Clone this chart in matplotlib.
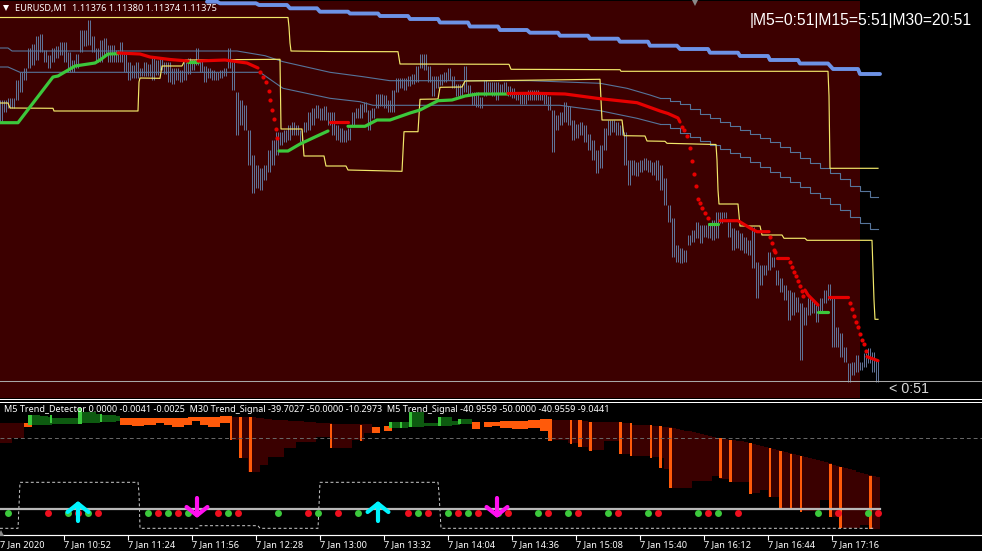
import matplotlib
matplotlib.use("Agg")
import matplotlib.pyplot as plt

MAROON = "#3c0000"
BLUE = "#5f7296"
THIN = "#56749a"
YEL = "#f2e86a"
GRN = "#3cc83c"
RED = "#e60000"
ORG = "#ff5a0a"
DGRN = "#0d5a10"
DARK = "#3a0000"

bar_high = [100,100,98,98,80,72,68,48,44,36,
 34,50,55,48,46,42,42,52,60,54,
 30,30,20,36,48,40,38,45,45,50,
 42,52,62,65,62,68,62,64,58,60,
 58,62,62,68,68,70,62,58,60,48,
 60,66,68,70,72,70,68,48,62,92,
 100,105,130,155,165,168,165,150,140,132,
 132,130,125,122,125,130,122,112,108,105,
 108,106,112,112,125,128,130,128,112,108,
 104,102,110,108,94,94,95,100,90,78,
 78,78,76,74,66,54,54,66,76,76,
 74,72,68,76,84,84,66,85,92,92,
 97,80,82,82,82,84,82,86,88,92,
 94,92,90,90,90,92,92,96,110,115,
 112,102,106,120,124,122,125,134,140,150,
 145,128,120,120,122,125,132,160,160,162,
 160,158,160,162,160,165,178,205,218,245,
 248,250,235,230,222,225,225,223,220,212,
 212,212,222,228,230,233,237,240,227,262,
 265,265,252,257,270,278,285,290,292,297,
 303,307,298,300,305,298,290,284,297,327,
 333,347,363,362,355,362,353,348,352,360]
bar_low = [122,112,108,108,100,92,80,68,65,60,
 52,62,68,62,58,55,62,72,72,68,
 52,46,45,52,62,62,55,62,62,62,
 62,72,80,78,78,76,76,76,80,75,
 70,74,82,84,80,82,80,74,70,65,
 72,82,78,80,80,78,76,68,90,135,
 125,130,165,193,188,190,180,172,165,155,
 145,142,140,135,135,142,132,130,125,118,
 120,120,125,135,140,142,142,140,125,118,
 118,112,130,118,108,106,108,112,112,92,
 88,90,86,84,82,68,70,82,96,88,
 85,82,80,88,96,96,92,94,105,107,
 108,96,92,96,100,94,92,96,98,100,
 104,104,100,100,100,100,104,110,152,130,
 125,122,125,140,138,135,142,150,160,173,
 168,150,135,132,135,135,165,185,175,176,
 172,170,172,175,180,190,205,222,257,262,
 263,262,245,242,238,243,237,238,240,238,
 223,218,237,250,248,250,253,255,268,298,
 285,275,270,267,285,292,300,320,315,312,
 360,325,315,313,322,312,303,300,347,347,
 357,362,382,375,372,370,367,363,372,382]

slow_x = [207,217,220,256,259,287,290,317,320,348,350,378,380,408,410,438,440,468,470,498,500,527,530,558,560,588,590,618,620,648,650,677,680,708,710,738,740,768,770,798,800,828,833,858,860,880]
slow_y = [1.7,1.7,3.3,3.3,5,5,8.3,8.3,11.7,11.7,13.5,13.5,16,16,19,19,22.5,22.5,26.5,26.5,30,30,32.7,32.7,35.7,35.7,38.7,38.7,41.7,41.7,45.7,45.7,49,49,52.7,52.7,56,56,60,60,63.5,63.5,69,69,74,74]

upper_x = [0,288,289,290,291,330,398,400,509,511,620,621,828,829,830,878]
upper_y = [17.5,17.5,27,43,51,51.5,51.7,64,64.3,69.3,69.7,71.3,71.3,96,168.3,168.3]
lower_x = [0,8,10,53,54,138,139,140,160,162,182,185,280,281,283,302,304,324,326,346,348,402,404,418,420,438,440,462,465,600,602,622,624,645,647,665,667,716,717,718,719,738,740,760,762,782,784,805,807,872,873,874,875,878]
lower_y = [103,103,108,108.3,111,111,82,78,78.3,66,66,60,59.3,129,129,129,156,156,166,166,170,171.3,131.7,131.7,99.3,99,87.3,87,81,79.3,120,120,135.7,136,141,141.3,143.3,144.5,160,190,204,204,226,226,235,235,238.3,238.3,240.3,240.3,270,300,319.3,319.3]

env1_x = [0,8,12,237,265,283,330,363,390,530,600,627,650,660]
env1_y = [48,48,51,51,55.7,61.7,72.3,76.7,80.7,80.7,83.3,88.3,95,98.3]
env1b_x = [660,670,680,690,700,710,720,730,740,750,760,770,780,790,800,810,820,830,840,850,860,870,878]
env1b_y = [98.3,100.7,104,109.3,114,118.3,121.7,126,130,134,138.3,142.3,147.3,151.7,158.3,163.3,168.3,172.7,179,186,191,197,197]
env2_x = [0,8,20,260,283,330,360,373,560,570,600,637,660]
env2_y = [67,67,72.3,72.3,88.3,98.3,101.7,105.3,105.3,106.7,110.7,118.3,124.3]
env2b_x = env1b_x
env2b_y = [124.3,128.3,133.3,137.3,141,145,149.3,153.3,157.3,162.3,166.7,171.7,176.7,181.7,186.7,193.3,198.3,204,210,217.3,223.3,229.3,229.3]

green_segments = [
 ([0,18,30,53,58,75,95,100,108,118],[122.7,122.7,107,77,76,66,63,60,54,53.7]),
 ([188,198],[62,62]),
 ([279,288,300,315,328],[151,151,144,137,131]),
 ([348,365,377,390,410,420,438,452,465,478,490,508],[126.3,126.3,120,120,113,110,100.7,100,96,94,94,94]),
 ([709,718],[224,224]),
 ([818,828],[312.3,312.3]),
]
red_segments = [
 ([118,140,150,170,188],[53,54,57,59.5,61]),
 ([198,225,247,258],[61,60,63,68]),
 ([330,348],[122,122]),
 ([508,535,565,597,637,660,668,678,680],[93.5,93.3,94,98.3,102.7,111,113.5,118,122]),
 ([720,738,750,757,769],[220.7,220.7,228,231.7,231.7]),
 ([777,788],[257.7,257.7]),
 ([805,808,818],[290,295,305]),
 ([829,848],[297.3,297.3]),
 ([867,878],[356.7,360.7]),
]
red_dot_x = [260,263,266,269,270,272,274,276,277,682,684,687,690,692,694,696,698,700,702,705,708,770,772,774,775,790,792,794,796,798,800,802,803,850,852,854,856,858,860,862,864,866]
red_dot_y = [72,77,82,91,100,110,119,129,138,127,130,136,148,161,174,186,199,203,208,213,218,237,243,250,252,262,267,272,276,281,286,291,296,303,309,316,322,327,334,340,344,351]

dark_x = [0,4,8,12,16,20,232,236,240,244,248,252,256,260,264,268,272,276,280,284,288,292,296,300,304,308,312,316,320,324,328,332,336,340,344,348,352,356,360,364,368,
 552,556,560,564,568,572,576,580,584,588,592,596,600,604,608,612,616,620,624,628,632,636,640,644,648,652,656,660,664,668,
 672,676,680,684,688,692,696,700,704,708,712,716,720,724,728,732,736,740,744,748,752,756,760,764,768,772,776,780,784,788,792,796,800,804,808,812,816,820,824,828,832,836,840,844,848,852,856,860,864,868,872,876]
dark_top = [423,423,423,423,423,423,417,417,417,417,417,417,418,418,419,419,420,420,420,420,421,421,421,421,422,422,422,423,423,423,423,424,424,424,424,424,424,424,424,424,424,
 420,420,420,420,420,420,420,421,421,422,422,422,422,422,422,422,422,423,423,423,425,425,425,425,425,426,426,427,427,427,
 428,429,430,431,431,432,433,434,435,436,437,438,438,439,440,440,441,441,442,443,444,445,446,447,448,449,450,451,452,453,454,455,456,457,458,459,460,461,462,463,465,466,467,468,469,470,472,473,474,475,476,477]
dark_bot = [443,443,443,438,438,438,440,440,458,458,472,472,472,465,465,457,457,457,457,448,448,448,442,442,442,442,442,437,437,437,437,448,448,448,448,448,440,440,441,433,433,
 440,440,440,440,443,443,443,447,447,450,450,450,450,441,441,441,441,454,454,454,456,456,456,456,456,457,457,458,469,469,
 488,488,488,488,488,481,481,481,481,481,476,476,479,479,479,482,482,482,482,482,493,493,490,490,497,497,497,508,508,508,508,508,511,511,511,511,511,500,500,500,517,517,528,528,528,528,528,525,525,525,529,529]

grn_x = [32,36,40,44,48,52,56,60,64,68,72,76,80,84,88,92,96,100,104,108,112,116,392,396,400,404,408,412,416,420,424,428,432,436,440,444,448,452,456,460,464,468]
grn_top = [415,415,416,416,417,418,418,418,418,418,418,418,412,412,412,412,414,415,415,415,415,416,422,422,422,422,422,412,412,412,423,423,423,423,417,417,417,421,421,419,419,419]
grn_bot = [425,425,425,425,425,424,424,424,424,424,424,424,423,423,423,423,423,422,422,422,422,421,428,428,428,428,427,427,427,427,426,426,426,426,426,426,426,425,425,424,424,424]

org_x = [24,28,120,124,128,132,136,140,144,148,152,156,160,164,168,172,176,180,184,188,192,196,200,204,208,212,216,220,224,228,372,376,384,388,472,476,484,488,492,496,500,504,508,512,516,520,524,528,532,536,540,544]
org_top = [423,423,418,418,418,418,418,418,418,418,418,418,418,418,418,418,418,418,418,417,417,417,417,417,417,417,417,416,416,416,427,427,426,426,422,422,422,422,422,422,421,421,421,421,421,421,421,420,420,420,419,419]
org_bot = [427,427,425,425,425,426,426,426,425,425,425,423,423,425,425,427,427,427,425,425,421,421,425,425,427,427,427,423,423,423,433,433,431,431,429,429,427,427,426,426,428,428,428,429,429,429,429,428,428,428,431,431]

spike_x = [230,239,249,330,360,548,570,578,589,619,630,650,659,669,719,729,749,769,779,790,800,829,839,869]
spike_w = [2,3,3,2,2,4,2,4,3,3,2,2,3,3,3,3,3,2,3,2,2,3,3,3]
spike_top = [417,417,417,424,425,419,420,420,422,422,423,425,426,428,438,440,443,448,451,454,456,464,467,476]
spike_bot = [440,458,472,448,441,441,444,447,451,454,456,458,468,488,478,482,494,497,508,508,512,517,528,529]

bright_x = [28,50,78,100,389,400,409,438,458]
bright_w = [4,2,4,2,3,2,3,3,3]
bright_top = [415,415,408,414,422,422,412,417,419]
bright_bot = [425,423,424,422,428,428,427,426,424]

stair_x = [0,18,20,138,139,140,198,200,258,260,318,320,438,439,441,874]
stair_y = [528.3,528.3,482.3,482.3,493,528.3,528.3,525.7,525.7,528.3,528.3,482.3,482.3,493,528.3,528.3]

green_dots = [8,68,88,148,168,188,228,278,318,358,418,448,468,498,538,568,608,648,698,718,818,868]
red_dots = [48,78,98,158,178,218,238,308,338,408,428,458,478,508,548,578,618,658,708,738,838,878]

up_arrows = [78,378]
down_arrows = [197,497]

tick_pos = [64,128,192,256,320,384,448,512,576,640,704,768,832]
tick_labels = ["7 Jan 10:52","7 Jan 11:24","7 Jan 11:56","7 Jan 12:28","7 Jan 13:00","7 Jan 13:32","7 Jan 14:04","7 Jan 14:36","7 Jan 15:08","7 Jan 15:40","7 Jan 16:12","7 Jan 16:44","7 Jan 17:16"]

fig = plt.figure(figsize=(9.82, 5.51), dpi=100, facecolor="black")
ax = fig.add_axes([0, 0, 1, 1])
ax.set_xlim(0, 982)
ax.set_ylim(551, 0)
ax.axis("off")
ax.set_facecolor("black")

ax.fill_between([0, 860], 1, 397.5, color=MAROON, lw=0, zorder=0)

# price bars: each reading covers a pair of one-minute bars, 2 px apart
bar_x = [4 * i for i in range(len(bar_high))]
ax.vlines(bar_x, bar_high, bar_low, color=BLUE, lw=0.72, zorder=2)
ax.vlines([x + 2 for x in bar_x], bar_high, bar_low, color=BLUE, lw=0.72, zorder=2)

# channels
for xs, ys in [(env1_x, env1_y), (env2_x, env2_y)]:
    ax.plot(xs, ys, color=THIN, lw=0.8, zorder=3)
for xs, ys in [(env1b_x, env1b_y), (env2b_x, env2b_y)]:
    ax.plot(xs, ys, color=THIN, lw=0.8, zorder=3, drawstyle="steps-post")
ax.plot(upper_x, upper_y, color=YEL, lw=0.85, zorder=4)
ax.plot(lower_x, lower_y, color=YEL, lw=0.85, zorder=4)
ax.plot(slow_x, slow_y, color="#6d92e6", lw=2.8, zorder=4, solid_capstyle="round")

for xs, ys in green_segments:
    ax.plot(xs, ys, color=GRN, lw=2.3, zorder=5, solid_capstyle="round")
for xs, ys in red_segments:
    ax.plot(xs, ys, color=RED, lw=2.3, zorder=5, solid_capstyle="round")
ax.plot(red_dot_x, red_dot_y, ls="none", marker="o", ms=3.0, color=RED, mew=0, zorder=5)

ax.plot([0, 982], [381, 381], color="#a8a8a8", lw=0.75, zorder=6)

ax.text(15, 8.5, "EURUSD,M1  1.11376 1.11380 1.11374 1.11375", color="white", fontsize=6.6,
        family="Noto Sans", va="center", ha="left", zorder=8)
ax.plot([6], [7.5], marker="v", ms=4.5, mew=0, color="white", zorder=8)
ax.plot([695], [1.5], marker="v", ms=6, mew=0, color="#8a8a8a", zorder=8)
ax.text(750, 20.5, "|M5=0:51|M15=5:51|M30=20:51", color="white", fontsize=11.25,
        family="Liberation Sans", va="center", ha="left", zorder=8)
ax.text(889, 389, "< 0:51", color="#d8d8d8", fontsize=10.3, family="Liberation Sans",
        va="center", ha="left", zorder=8)

# separators
ax.plot([0, 982], [399, 399], color="white", lw=0.72, zorder=7)
ax.plot([0, 982], [401.5, 401.5], color="white", lw=0.72, zorder=7)

# histogram
def bars(xs, tops, bots, color, widths=4, z=2):
    hts = [b - t for t, b in zip(tops, bots)]
    ax.bar(xs, hts, bottom=tops, width=widths, align="edge", color=color, lw=0, zorder=z)

bars(dark_x, dark_top, dark_bot, DARK)
bars(grn_x, grn_top, grn_bot, DGRN)
bars(org_x, org_top, org_bot, ORG)
bars(spike_x, spike_top, spike_bot, ORG, widths=spike_w, z=3)
bars(bright_x, bright_top, bright_bot, GRN, widths=bright_w, z=3)

ax.plot([0, 982], [438.3, 438.3], color="#6a6a6a", lw=0.7, ls=(0, (4, 3)), zorder=4)
ax.plot(stair_x, stair_y, color="#cfcfcf", lw=0.7, ls=(0, (3, 2.5)), zorder=4)
ax.plot([0, 880], [509, 509], color="#b8b8b8", lw=1.6, zorder=4)
ax.plot(green_dots, [512.5] * len(green_dots), ls="none", marker="o", ms=5.0, mew=0, color=GRN, zorder=5)
ax.plot(red_dots, [512.5] * len(red_dots), ls="none", marker="o", ms=5.0, mew=0, color="#ee0f1e", zorder=5)

for x in up_arrows:
    ax.annotate("", xy=(x, 501), xytext=(x, 521), zorder=6,
                arrowprops=dict(arrowstyle="->,head_length=0.6,head_width=0.75", lw=3.0, color="#00f5ff",
                                shrinkA=0, shrinkB=0))
for x in down_arrows:
    ax.annotate("", xy=(x, 518), xytext=(x, 498), zorder=6,
                arrowprops=dict(arrowstyle="->,head_length=0.6,head_width=0.75", lw=3.0, color="#ff10f0",
                                shrinkA=0, shrinkB=0))

ax.text(4, 409.5, "M5 Trend_Detector 0.0000 -0.0041 -0.0025  M30 Trend_Signal -39.7027 -50.0000 -10.2973  M5 Trend_Signal -40.9559 -50.0000 -40.9559 -9.0441",
        color="white", fontsize=6.52, family="Noto Sans", va="center", ha="left", zorder=8)

# time axis
ax.plot([0, 982], [535, 535], color="white", lw=0.85, zorder=7)
ax.vlines(tick_pos, 535, 540, color="white", lw=0.8, zorder=7)
ax.text(0, 545, "7 Jan 2020", color="white", fontsize=6.6, family="Noto Sans", va="center", ha="left")
for x, lab in zip(tick_pos, tick_labels):
    ax.text(x, 545, lab, color="white", fontsize=6.6, family="Noto Sans", va="center", ha="left")
ax.plot([1], [533], marker="^", ms=5, mew=0, color="#8a8a8a", zorder=8)

fig.savefig("out.png", dpi=100, facecolor="black")
